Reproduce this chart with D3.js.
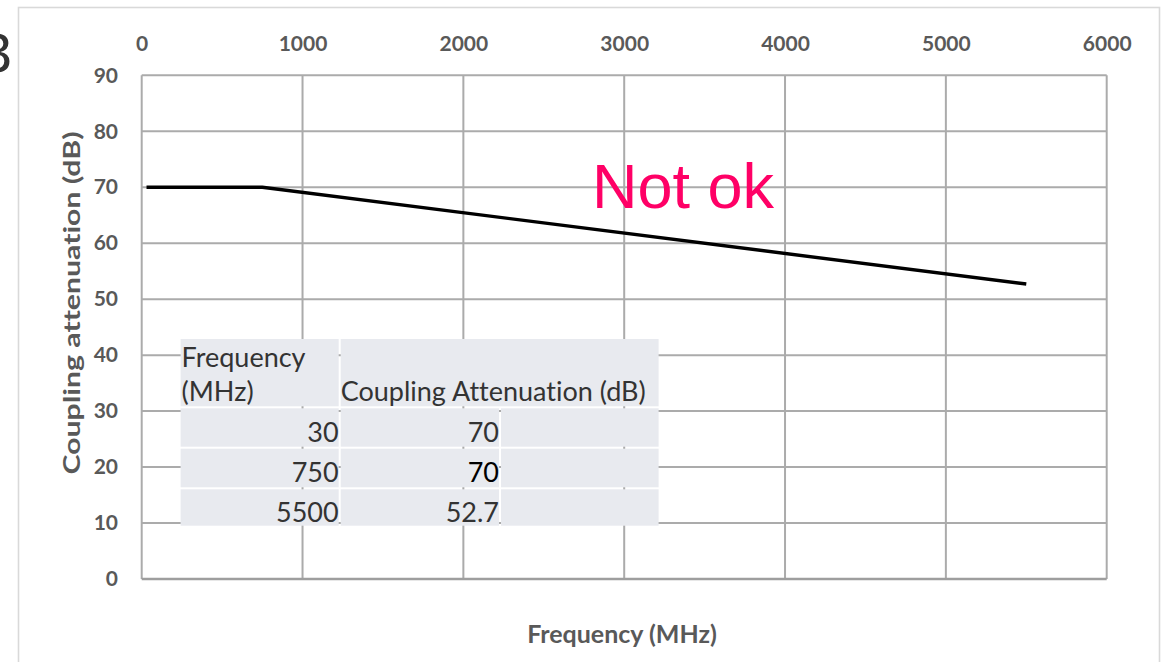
<!DOCTYPE html>
<html>
<head>
<meta charset="utf-8">
<script src="https://cdn.jsdelivr.net/npm/d3@7"></script>
<style>
  body { margin: 0; background: #fff; }
  svg { display: block; }
  text { font-variant-ligatures: none; }
</style>
</head>
<body>
<div id="chart"></div>
<script>
var freqMHz = [30, 750, 5500];
var attenuationDb = [70, 70, 52.7];
var xTicks = [0, 1000, 2000, 3000, 4000, 5000, 6000];
var yTicks = [0, 10, 20, 30, 40, 50, 60, 70, 80, 90];
var tableHead = ["Frequency", "(MHz)", "Coupling Attenuation (dB)"];
var tableValues = ["30", "750", "5500"];
var tableAtten = ["70", "70", "52.7"];

var W = 1171, H = 662;
var plot = {left: 141.7, right: 1106.7, top: 75.3, bottom: 579};

var svg = d3.select("#chart")
            .append("svg")
              .attr("width", W)
              .attr("height", H);

// outer frame (bottom runs past the picture)
svg.append("rect")
   .attr("x", 18.5).attr("y", 7.5)
   .attr("width", 1141).attr("height", 720)
   .attr("fill", "none")
   .attr("stroke", "#d9d9d9")
   .attr("stroke-width", 1.6);

// cut-off figure number at the very left
svg.append("text")
   .attr("x", 12).attr("y", 72)
   .attr("text-anchor", "end")
   .style("font-family", "Liberation Sans")
   .style("font-size", "56px")
   .style("fill", "#333")
   .text("3");

var xScale = d3.scaleLinear().domain([0, 6000]).range([plot.left, plot.right]);
var yScale = d3.scaleLinear().domain([0, 90]).range([plot.bottom, plot.top]);

// grid
svg.selectAll("vgrid")
   .data(xTicks)
   .enter()
   .append("line")
     .attr("x1", function(d){ return xScale(d); })
     .attr("x2", function(d){ return xScale(d); })
     .attr("y1", plot.top).attr("y2", plot.bottom)
     .attr("stroke", "#ababab")
     .attr("stroke-width", 2);

svg.selectAll("hgrid")
   .data(yTicks)
   .enter()
   .append("line")
     .attr("x1", plot.left).attr("x2", plot.right)
     .attr("y1", function(d){ return yScale(d); })
     .attr("y2", function(d){ return yScale(d); })
     .attr("stroke", function(d){ return d == 0 ? "#9e9e9e" : "#ababab"; })
     .attr("stroke-width", function(d){ return d == 0 ? 2.6 : 2; });

// axes: tick labels only, Excel style
var xAxis = svg.append("g")
   .attr("transform", "translate(0," + 44 + ")")
   .call(d3.axisTop(xScale).tickValues(xTicks).tickSize(0).tickPadding(0).tickFormat(d3.format("d")));
var yAxis = svg.append("g")
   .attr("transform", "translate(" + 118 + ",0)")
   .call(d3.axisLeft(yScale).tickValues(yTicks).tickSize(0).tickPadding(0));

[xAxis, yAxis].forEach(function(ax){
  ax.select(".domain").remove();
  ax.selectAll("text")
    .style("font-family", "Lato")
    .style("font-weight", "bold")
    .style("font-size", "21px")
    .style("fill", "#595959");
});
xAxis.selectAll("text").attr("dy", "0.35em");

// axis titles
svg.append("text")
   .attr("x", 622).attr("y", 643)
   .attr("text-anchor", "middle")
   .style("font-family", "Lato")
   .style("font-weight", "bold")
   .style("font-size", "25px")
   .style("fill", "#595959")
   .text("Frequency (MHz)");

svg.append("text")
   .attr("transform", "translate(80,303) rotate(-90)")
   .attr("text-anchor", "middle")
   .attr("textLength", 343)
   .attr("lengthAdjust", "spacingAndGlyphs")
   .style("font-family", "Lato")
   .style("font-weight", "bold")
   .style("font-size", "23px")
   .style("fill", "#595959")
   .text("Coupling attenuation (dB)");

// the limit line
var line = d3.line()
             .x(function(d){ return xScale(d[0]); })
             .y(function(d){ return yScale(d[1]); });
svg.append("path")
   .datum(d3.zip(freqMHz, attenuationDb))
   .attr("d", line)
   .attr("fill", "none")
   .attr("stroke", "#000")
   .attr("stroke-width", 3.4);

// annotation
svg.append("text")
   .attr("x", 592).attr("y", 208)
   .style("font-family", "Liberation Sans")
   .style("font-size", "63px")
   .style("fill", "#ff0066")
   .text("Not ok");

// pasted table on top of the plot
var cols = [180.6, 339.7, 500, 658.6];
var rows = [339, 407.3, 447.7, 488.3, 526.7];
var tbl = svg.append("g");
var cellFill = "#e8eaef";

// header: first column, then merged cell over the last two
tbl.append("rect")
   .attr("x", cols[0]).attr("y", rows[0])
   .attr("width", cols[1] - cols[0] - 1).attr("height", rows[1] - rows[0] - 1)
   .attr("fill", cellFill);
tbl.append("rect")
   .attr("x", cols[1] + 1).attr("y", rows[0])
   .attr("width", cols[3] - cols[1] - 1).attr("height", rows[1] - rows[0] - 1)
   .attr("fill", cellFill);

for (var r = 0; r < 3; r++) {
  for (var c = 0; c < 3; c++) {
    tbl.append("rect")
       .attr("x", cols[c] + (c ? 1 : 0))
       .attr("y", rows[r + 1] + 1)
       .attr("width", cols[c + 1] - cols[c] - (c ? 1 : 0) - (c < 2 ? 1 : 0))
       .attr("height", rows[r + 2] - rows[r + 1] - 2)
       .attr("fill", cellFill);
  }
}

var tfont = {family: "Lato", size: "27px", color: "#333"};
function cellText(x, y, anchor, txt, color){
  tbl.append("text")
     .attr("x", x).attr("y", y)
     .attr("text-anchor", anchor)
     .style("font-family", tfont.family)
     .style("font-size", tfont.size)
     .style("fill", color || tfont.color)
     .text(txt);
}
cellText(cols[0] + 1, 367, "start", tableHead[0]);
cellText(cols[0] + 1, 401, "start", tableHead[1]);
cellText(cols[1] + 1, 401, "start", tableHead[2]);

var baselines = [441.5, 482, 521.5];
tableValues.forEach(function(v, i){
  cellText(cols[1] - 1, baselines[i], "end", v);
  cellText(cols[2] - 1, baselines[i], "end", tableAtten[i], i == 1 ? "#000" : null);
});
</script>
</body>
</html>
